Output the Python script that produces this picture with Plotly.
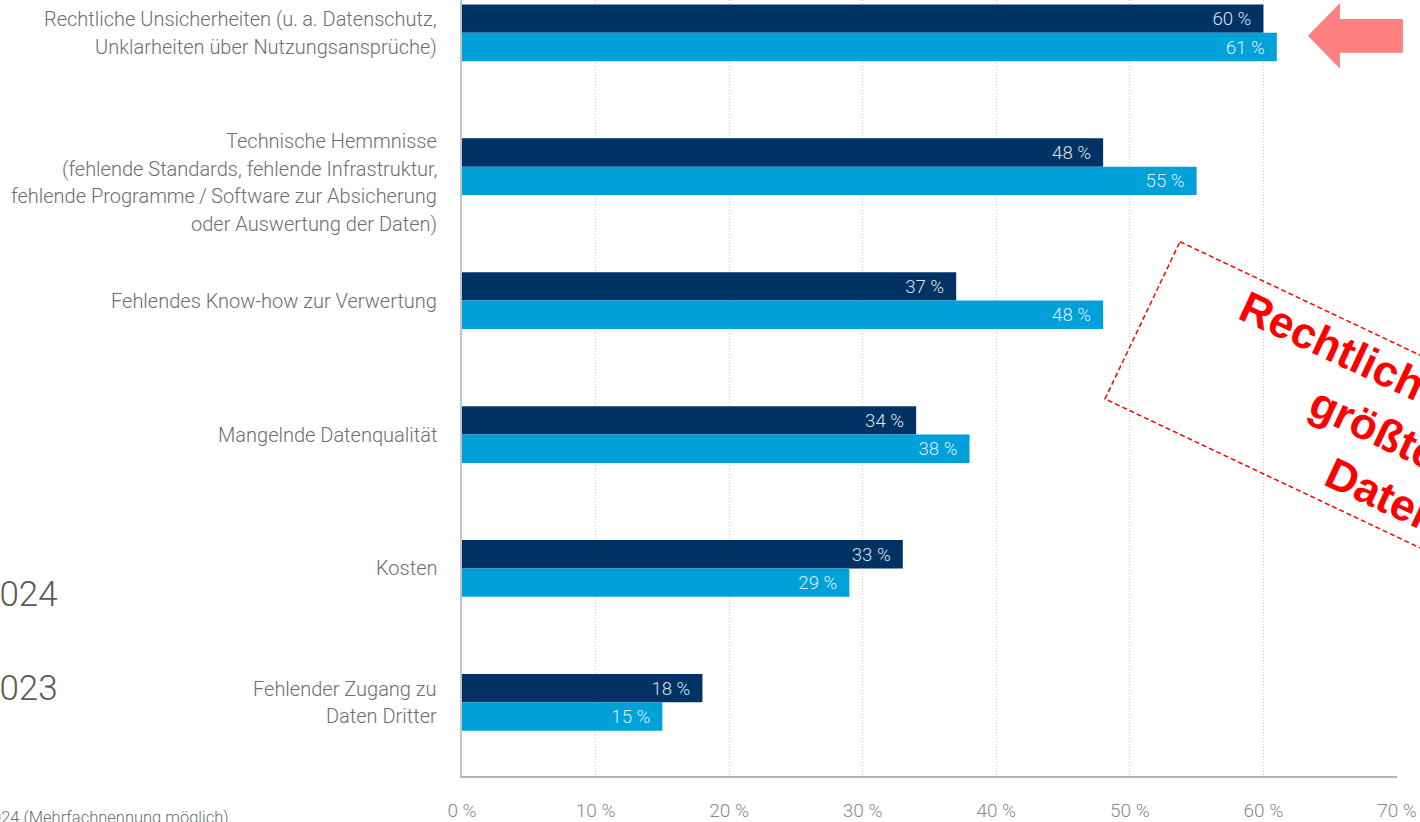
import plotly.graph_objects as go

# ---------------- data ----------------
categories = [
    "Rechtliche Unsicherheiten",
    "Technische Hemmnisse",
    "Fehlendes Know-how zur Verwertung",
    "Mangelnde Datenqualität",
    "Kosten",
    "Fehlender Zugang zu Daten Dritter",
]
category_label_lines = [
    ["Rechtliche Unsicherheiten (u.\u2009a. Datenschutz,", "Unklarheiten über Nutzungsansprüche)"],
    ["Technische Hemmnisse", "(fehlende Standards, fehlende Infrastruktur,",
     "fehlende Programme\u2009/\u2009Software zur Absicherung", "oder Auswertung der Daten)"],
    ["Fehlendes Know-how zur Verwertung"],
    ["Mangelnde Datenqualität"],
    ["Kosten"],
    ["Fehlender Zugang zu", "Daten Dritter"],
]
values_2024 = [60, 48, 37, 34, 33, 18]
values_2023 = [61, 55, 48, 38, 29, 15]
series_names = ["2024", "2023"]
x_ticks = [0, 10, 20, 30, 40, 50, 60, 70]
x_tick_labels = [f"{v} %" for v in x_ticks]
callout_text = "Rechtliche Unsicherheiten sind<br>größtes Hemmnis bei<br>Datenverwertung"
footnote = "Quelle: Befragung 2024 (Mehrfachnennung möglich)"

# ---------------- style ----------------
W, H = 1420, 822
ML, MR, MT, MB = 462, 23, 0, 42
PW, PH = W - ML - MR, H - MT - MB
DARK = "#003264"
LIGHT = "#00a0d9"
GREY_TXT = "#6e6e6e"
FONT = "Roboto"

def px2paper(px, py):
    return (px - ML) / PW, 1 - (py - MT) / PH

fig = go.Figure()
for name, vals, col in [(series_names[0], values_2024, DARK), (series_names[1], values_2023, LIGHT)]:
    fig.add_trace(go.Bar(
        name=name, y=categories, x=vals, orientation="h",
        marker=dict(color=col, line=dict(width=0)),
        text=[f"{v} %\u00a0\u00a0" for v in vals],
        textposition="inside", insidetextanchor="end",
        textfont=dict(family=FONT, size=20, color="rgba(255,255,255,0.88)", weight=300),
        cliponaxis=False, showlegend=False, hoverinfo="skip",
    ))

annotations = []
# category labels (right aligned, one annotation per line)
extra_shift = [0, 16, 0, 0, 0, 0]
LINE_H = 27.5
for i, lines in enumerate(category_label_lines):
    n = len(lines)
    for j, line in enumerate(lines):
        off = (j - (n - 1) / 2) * LINE_H + extra_shift[i]
        annotations.append(dict(
            x=0, xref="paper", y=categories[i], yref="y", text=line,
            xanchor="right", yanchor="middle", xshift=-23, yshift=-off,
            showarrow=False, font=dict(family=FONT, size=20, color=GREY_TXT, weight=300),
        ))

# legend-like year labels (partially cut at left edge)
for name, py in [(series_names[0], 598), (series_names[1], 692)]:
    xp, yp = px2paper(60, py)
    annotations.append(dict(x=xp, y=yp, xref="paper", yref="paper", text=name,
                            xanchor="right", yanchor="middle", showarrow=False,
                            font=dict(family=FONT, size=35, color="#5a5a5a", weight=300)))

# footnote
xp, yp = px2paper(231, 810)
annotations.append(dict(x=xp, y=yp, xref="paper", yref="paper", text=footnote,
                        xanchor="right", yanchor="top", showarrow=False,
                        font=dict(family=FONT, size=16.5, color=GREY_TXT, weight=300)))

# red rotated callout
xp, yp = px2paper(1515, 496)
annotations.append(dict(x=xp, y=yp, xref="paper", yref="paper", text=callout_text,
                        xanchor="center", yanchor="middle", showarrow=False, textangle=25,
                        align="center",
                        font=dict(family="Liberation Sans, Arial", size=44, color="#ff0000", weight=700)))

shapes = []
# dashed rotated box
pts = [(1180, 243), (1900.6, 585.3), (1825.6, 743.3), (1105, 401)]
pp = [px2paper(*p) for p in pts]
path = "M " + " L ".join(f"{a:.4f},{b:.4f}" for a, b in pp) + " Z"
shapes.append(dict(type="path", xref="paper", yref="paper", path=path,
                   line=dict(color="#ff0000", width=1.5, dash="5px,3px"), fillcolor="rgba(0,0,0,0)"))
# salmon arrow pointing left
arrow_px = [(1308, 36), (1340, 3), (1340, 19), (1403, 19), (1403, 53), (1340, 53), (1340, 69)]
ap = [px2paper(*p) for p in arrow_px]
apath = "M " + " L ".join(f"{a:.4f},{b:.4f}" for a, b in ap) + " Z"
shapes.append(dict(type="path", xref="paper", yref="paper", path=apath,
                   line=dict(width=0), fillcolor="#ff8080"))

fig.update_layout(
    width=W, height=H,
    margin=dict(l=ML, r=MR, t=MT, b=MB, pad=0),
    paper_bgcolor="white", plot_bgcolor="white",
    barmode="group", bargap=0.5765, bargroupgap=0,
    annotations=annotations, shapes=shapes,
    font=dict(family=FONT), hovermode=False,
    xaxis=dict(
        range=[0, 70], tickvals=x_ticks, ticktext=x_tick_labels,
        showgrid=True, gridcolor="#cccccc", griddash="1px,2px", gridwidth=1,
        showline=True, linecolor="#b4b4b4", linewidth=2,
        ticks="", ticklabelstandoff=16, zeroline=False,
        tickfont=dict(family=FONT, size=19, color="#8a8a8a", weight=300),
    ),
    yaxis=dict(
        type="category", categoryorder="array", categoryarray=categories,
        range=[5.55, -0.245], showticklabels=False, showgrid=False,
        showline=True, linecolor="#c4c4c4", linewidth=1.5, zeroline=False, ticks="",
    ),
)

fig.write_html("out.html", config={"displayModeBar": False},
               post_script="document.body.style.margin='0px';document.body.style.overflow='hidden';")
